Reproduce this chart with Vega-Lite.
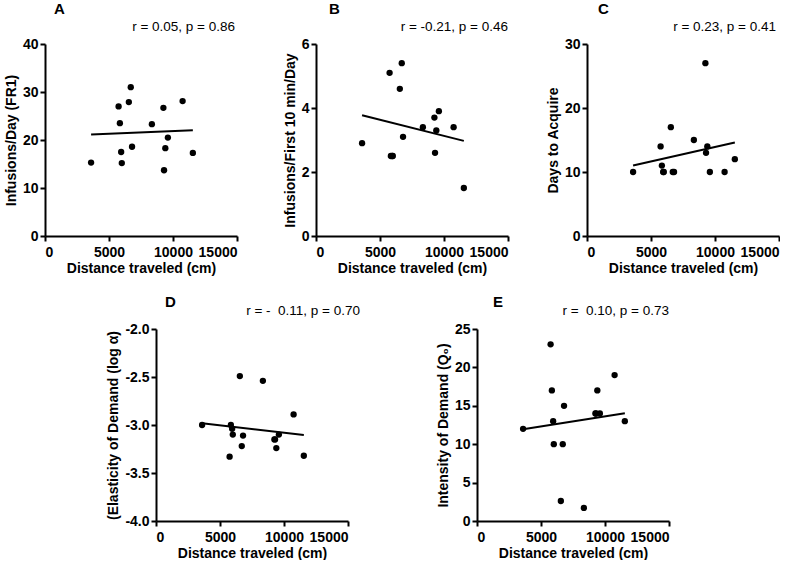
{
  "$schema": "https://vega.github.io/schema/vega-lite/v6.json",
  "padding": {"left": 4, "top": 2, "right": 0, "bottom": 0},
  "background": "white",
  "data": {"values": [
    {"rat": 1, "dist": 3600, "inf": 15.3, "f10": 2.9, "days": 10, "alpha": -3.0, "q0": 12},
    {"rat": 2, "dist": 5750, "inf": 27.0, "f10": 5.1, "days": 14, "alpha": -3.33, "q0": 23},
    {"rat": 3, "dist": 5850, "inf": 23.5, "f10": 2.5, "days": 11, "alpha": -3.0, "q0": 17},
    {"rat": 4, "dist": 5950, "inf": 17.5, "f10": 2.5, "days": 10, "alpha": -3.04, "q0": 13},
    {"rat": 5, "dist": 6000, "inf": 15.2, "f10": 2.5, "days": 10, "alpha": -3.10, "q0": 10},
    {"rat": 6, "dist": 6550, "inf": 27.9, "f10": 4.6, "days": 17, "alpha": -2.49, "q0": 2.6},
    {"rat": 7, "dist": 6700, "inf": 31.0, "f10": 5.4, "days": 10, "alpha": -3.22, "q0": 10},
    {"rat": 8, "dist": 6800, "inf": 18.6, "f10": 3.1, "days": 10, "alpha": -3.11, "q0": 15},
    {"rat": 9, "dist": 8350, "inf": 23.3, "f10": 3.4, "days": 15, "alpha": -2.54, "q0": 1.7},
    {"rat": 10, "dist": 9250, "inf": 26.7, "f10": 3.7, "days": 27, "alpha": -3.15, "q0": 14},
    {"rat": 11, "dist": 9300, "inf": 13.7, "f10": 2.6, "days": 13, "alpha": -3.15, "q0": 14},
    {"rat": 12, "dist": 9400, "inf": 18.3, "f10": 3.3, "days": 14, "alpha": -3.24, "q0": 17},
    {"rat": 13, "dist": 9600, "inf": 20.5, "f10": 3.9, "days": 10, "alpha": -3.10, "q0": 14},
    {"rat": 14, "dist": 10750, "inf": 28.1, "f10": 3.4, "days": 10, "alpha": -2.89, "q0": 19},
    {"rat": 15, "dist": 11550, "inf": 17.3, "f10": 1.5, "days": 12, "alpha": -3.32, "q0": 13}
  ]},
  "spacing": 20,
  "vconcat": [
    {
      "hconcat": [
        {
          "width": 192, "height": 192,
          "title": {"text": "A", "dx": 9, "offset": 3},
          "layer": [
            {"mark": {"type": "point", "filled": true, "size": 40, "color": "black", "opacity": 1},
             "encoding": {
               "x": {"field": "dist", "type": "quantitative", "scale": {"domain": [0, 15000], "nice": false, "zero": false}, "axis": {"values": [0, 5000, 10000, 15000], "format": "d", "title": "Distance traveled (cm)"}},
               "y": {"field": "inf", "type": "quantitative", "scale": {"domain": [0, 40], "nice": false, "zero": false}, "axis": {"values": [0, 10, 20, 30, 40], "title": "Infusions/Day (FR1)"}}}},
            {"mark": {"type": "line", "color": "black", "strokeWidth": 2},
             "transform": [{"regression": "inf", "on": "dist"}],
             "encoding": {"x": {"field": "dist", "type": "quantitative"}, "y": {"field": "inf", "type": "quantitative"}}},
            {"data": {"values": [{"label": "r = 0.05, p = 0.86"}]},
             "mark": {"type": "text", "align": "right", "baseline": "middle", "dy": -17, "dx": -2, "fontSize": 13.5, "color": "black"},
             "encoding": {"x": {"datum": 15000}, "y": {"datum": 40}, "text": {"field": "label"}}}
          ]
        },
        {
          "width": 192, "height": 192,
          "title": {"text": "B", "dx": 13, "offset": 3},
          "layer": [
            {"mark": {"type": "point", "filled": true, "size": 40, "color": "black", "opacity": 1},
             "encoding": {
               "x": {"field": "dist", "type": "quantitative", "scale": {"domain": [0, 15000], "nice": false, "zero": false}, "axis": {"values": [0, 5000, 10000, 15000], "format": "d", "title": "Distance traveled (cm)"}},
               "y": {"field": "f10", "type": "quantitative", "scale": {"domain": [0, 6], "nice": false, "zero": false}, "axis": {"values": [0, 2, 4, 6], "title": "Infusions/First 10 min/Day"}}}},
            {"mark": {"type": "line", "color": "black", "strokeWidth": 2},
             "transform": [{"regression": "f10", "on": "dist"}],
             "encoding": {"x": {"field": "dist", "type": "quantitative"}, "y": {"field": "f10", "type": "quantitative"}}},
            {"data": {"values": [{"label": "r = -0.21, p = 0.46"}]},
             "mark": {"type": "text", "align": "right", "baseline": "middle", "dy": -17, "dx": 0, "fontSize": 13.5, "color": "black"},
             "encoding": {"x": {"datum": 15000}, "y": {"datum": 6}, "text": {"field": "label"}}}
          ]
        },
        {
          "width": 192, "height": 192,
          "title": {"text": "C", "dx": 11, "offset": 3},
          "layer": [
            {"mark": {"type": "point", "filled": true, "size": 40, "color": "black", "opacity": 1},
             "encoding": {
               "x": {"field": "dist", "type": "quantitative", "scale": {"domain": [0, 15000], "nice": false, "zero": false}, "axis": {"values": [0, 5000, 10000, 15000], "format": "d", "title": "Distance traveled (cm)"}},
               "y": {"field": "days", "type": "quantitative", "scale": {"domain": [0, 30], "nice": false, "zero": false}, "axis": {"values": [0, 10, 20, 30], "title": "Days to Acquire"}}}},
            {"mark": {"type": "line", "color": "black", "strokeWidth": 2},
             "transform": [{"regression": "days", "on": "dist"}],
             "encoding": {"x": {"field": "dist", "type": "quantitative"}, "y": {"field": "days", "type": "quantitative"}}},
            {"data": {"values": [{"label": "r = 0.23, p = 0.41"}]},
             "mark": {"type": "text", "align": "right", "baseline": "middle", "dy": -17, "dx": -3, "fontSize": 13.5, "color": "black"},
             "encoding": {"x": {"datum": 15000}, "y": {"datum": 30}, "text": {"field": "label"}}}
          ]
        }
      ],
      "spacing": 79,
      "bounds": "flush"
    },
    {
      "hconcat": [
        {
          "width": 71, "height": 192,
          "data": {"values": [{"s": 1}]},
          "mark": {"type": "rect", "opacity": 0},
          "encoding": {}
        },
        {
          "width": 192, "height": 192,
          "title": {"text": "D", "dx": 9, "offset": -6},
          "layer": [
            {"mark": {"type": "point", "filled": true, "size": 40, "color": "black", "opacity": 1},
             "encoding": {
               "x": {"field": "dist", "type": "quantitative", "scale": {"domain": [0, 15000], "nice": false, "zero": false}, "axis": {"values": [0, 5000, 10000, 15000], "format": "d", "title": "Distance traveled (cm)"}},
               "y": {"field": "alpha", "type": "quantitative", "scale": {"domain": [-4, -2], "nice": false, "zero": false}, "axis": {"values": [-4, -3.5, -3, -2.5, -2], "tickCount": 10, "format": ".1f", "labelExpr": "replace(datum.label, '\u2212', '-')", "title": "(Elasticity of Demand (log \u03b1)"}}}},
            {"mark": {"type": "line", "color": "black", "strokeWidth": 2},
             "transform": [{"regression": "alpha", "on": "dist"}],
             "encoding": {"x": {"field": "dist", "type": "quantitative"}, "y": {"field": "alpha", "type": "quantitative"}}},
            {"data": {"values": [{"label": "r = -\u00a0 0.11, p = 0.70"}]},
             "mark": {"type": "text", "align": "right", "baseline": "middle", "dy": -18, "dx": 12, "fontSize": 13.5, "color": "black"},
             "encoding": {"x": {"datum": 15000}, "y": {"datum": -2}, "text": {"field": "label"}}}
          ]
        },
        {
          "width": 49, "height": 192,
          "data": {"values": [{"s": 1}]},
          "mark": {"type": "rect", "opacity": 0},
          "encoding": {}
        },
        {
          "width": 192, "height": 192,
          "title": {"text": "E", "dx": 16, "offset": -6},
          "layer": [
            {"mark": {"type": "point", "filled": true, "size": 40, "color": "black", "opacity": 1},
             "encoding": {
               "x": {"field": "dist", "type": "quantitative", "scale": {"domain": [0, 15000], "nice": false, "zero": false}, "axis": {"values": [0, 5000, 10000, 15000], "format": "d", "title": "Distance traveled (cm)"}},
               "y": {"field": "q0", "type": "quantitative", "scale": {"domain": [0, 25], "nice": false, "zero": false}, "axis": {"values": [0, 5, 10, 15, 20, 25], "tickCount": 10, "title": "Intensity of Demand (Q\u2080)"}}}},
            {"mark": {"type": "line", "color": "black", "strokeWidth": 2},
             "transform": [{"regression": "q0", "on": "dist"}],
             "encoding": {"x": {"field": "dist", "type": "quantitative"}, "y": {"field": "q0", "type": "quantitative"}}},
            {"data": {"values": [{"label": "r =\u00a0 0.10, p = 0.73"}]},
             "mark": {"type": "text", "align": "right", "baseline": "middle", "dy": -18, "dx": 0, "fontSize": 13.5, "color": "black"},
             "encoding": {"x": {"datum": 15000}, "y": {"datum": 25}, "text": {"field": "label"}}}
          ]
        }
      ],
      "spacing": 40,
      "bounds": "flush"
    }
  ],
  "config": {
    "font": "Liberation Sans",
    "view": {"stroke": null},
    "axis": {
      "grid": false,
      "labelOverlap": false,
      "domainColor": "black", "domainWidth": 2,
      "tickColor": "black", "tickWidth": 2, "tickSize": 5,
      "labelFont": "Liberation Sans", "labelFontWeight": "bold", "labelFontSize": 14, "labelColor": "black",
      "titleFont": "Liberation Sans", "titleFontWeight": "bold", "titleFontSize": 14, "titleColor": "black",
      "titlePadding": 4
    },
    "axisX": {"labelPadding": 4, "titlePadding": 2},
    "axisY": {"labelPadding": 2},
    "title": {"font": "Liberation Sans", "fontWeight": "bold", "fontSize": 15, "color": "black", "anchor": "start", "frame": "group"}
  }
}
